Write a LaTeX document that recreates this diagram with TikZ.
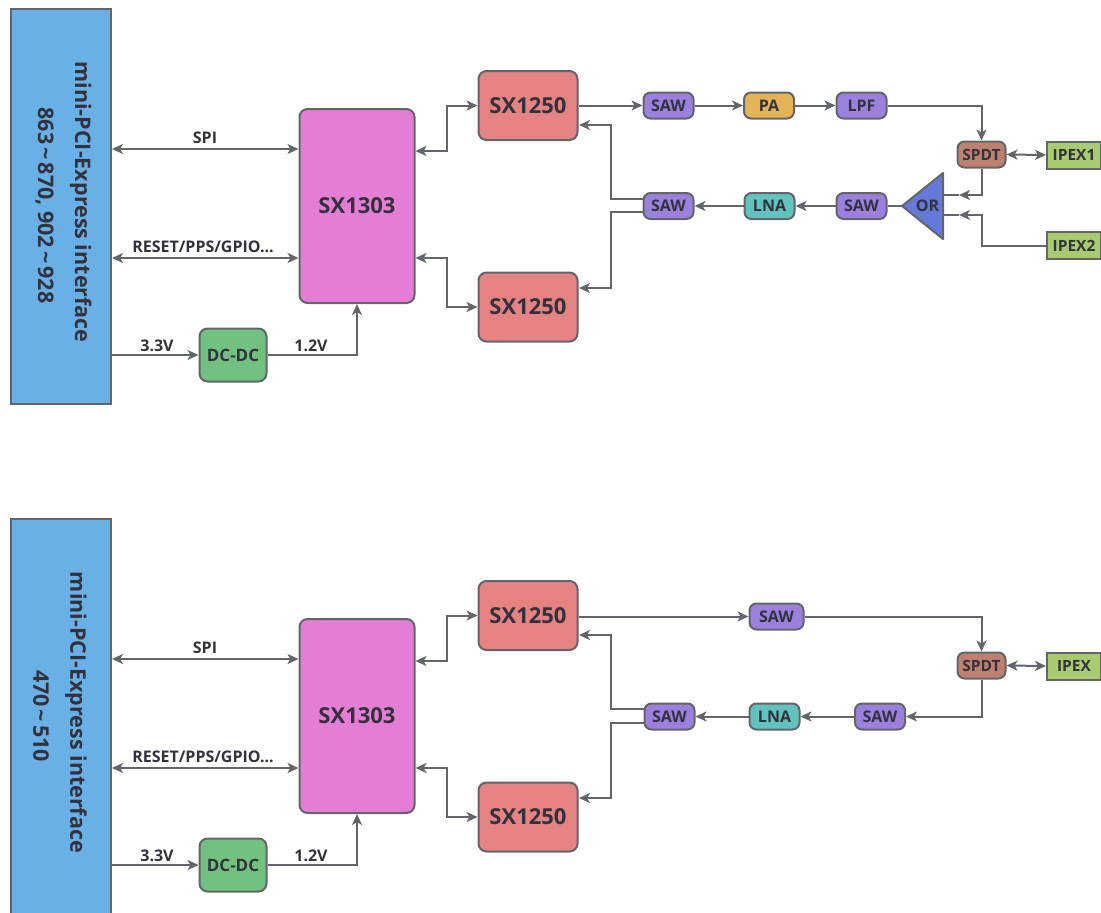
\documentclass[tikz,border=0pt]{standalone}
\usepackage{fontspec}
\setmainfont{Open Sans}
\usetikzlibrary{calc}
\usetikzlibrary{positioning,arrows.meta}
\definecolor{wirecol}{HTML}{62666A}
\definecolor{inkcol}{HTML}{33323C}
\definecolor{ifacecol}{HTML}{69B0E6}
\definecolor{soccol}{HTML}{E47ED4}
\definecolor{radiocol}{HTML}{E58282}
\definecolor{dcdccol}{HTML}{72C180}
\definecolor{sawcol}{HTML}{9B80DE}
\definecolor{pacol}{HTML}{E3B355}
\definecolor{lnacol}{HTML}{62C3BE}
\definecolor{spdtcol}{HTML}{C08070}
\definecolor{orcol}{HTML}{6479D8}
\definecolor{ipexcol}{HTML}{A9CB6F}
\newcommand{\wtilde}{\hspace{3pt}\textasciitilde\hspace{3pt}}
\tikzset{
    blk/.style={draw=wirecol, line width=2pt, inner sep=0pt, text=inkcol, font=\fontsize{17}{20}\selectfont\bfseries},
    iface/.style={blk, fill=ifacecol, minimum width=100pt, minimum height=395pt},
    soc/.style={blk, rounded corners=8pt, fill=soccol, minimum width=115pt, minimum height=194pt, font=\fontsize{22}{26}\selectfont\bfseries},
    radio/.style={blk, rounded corners=8pt, fill=radiocol, minimum width=99pt, minimum height=69pt, font=\fontsize{22}{26}\selectfont\bfseries},
    dcdc/.style={blk, rounded corners=8pt, fill=dcdccol, minimum width=67pt, minimum height=53pt},
    chip/.style={blk, rounded corners=7pt, minimum width=50pt, minimum height=26pt, font=\fontsize{16}{19}\selectfont\bfseries},
    spdtchip/.style={chip, fill=spdtcol, minimum width=48pt, font=\fontsize{15.5}{19}\selectfont\bfseries},
    ipex/.style={blk, fill=ipexcol, minimum width=54pt, minimum height=27pt, font=\fontsize{15.5}{19}\selectfont\bfseries},
    lbl/.style={inner sep=0pt, text=inkcol, font=\fontsize{16}{19}\selectfont\bfseries},
    ifacetxt/.style={lbl, rotate=-90, align=center, font=\fontsize{21.5}{37}\selectfont\bfseries},
    wire/.style={draw=wirecol, line width=2pt},
    arr/.style={wire, -{Stealth[length=11pt,width=10pt,inset=3pt]}},
    biarr/.style={wire, {Stealth[length=11pt,width=10pt,inset=3pt]}-{Stealth[length=11pt,width=10pt,inset=3pt]}},
}
\begin{document}
\begin{tikzpicture}[x=1pt,y=-1pt]
    \useasboundingbox (0,0) rectangle (1101,913);
    % left half, the same in both drawings
    \foreach \pre/\dy in {t-/0,b-/510} {
    \begin{scope}[yshift=-\dy pt, name prefix=\pre]
        \node[iface] (iface) at (61,206) {};
        \node[soc] (soc) at (357,206) {SX1303};
        \node[radio] (radioA) at (528,105.5) {SX1250};
        \node[radio] (radioB) at (528,307) {SX1250};
        \node[dcdc] (dcdc) at (233,355) {DC-DC};
        \coordinate (spiy) at (205,149);
        \coordinate (resety) at (205,258);
        \coordinate (socup) at (415,151);
        \node[lbl] (spilbl) at (205,138) {SPI};
        \node[lbl] (resetlbl) at (203,247) {RESET/PPS/GPIO...};
        \node[lbl] (vinlbl) at (157,346) {3.3V};
        \node[lbl] (voutlbl) at (311,346) {1.2V};
        \draw[biarr] (iface.east |- spiy) -- (soc.west |- spiy);
        \draw[biarr] (iface.east |- resety) -- (soc.west |- resety);
        \draw[arr] (iface.east |- dcdc) -- (dcdc.west);
        \draw[arr] (dcdc.east) -| (soc.south);
        \draw[biarr] (soc.east |- socup) -- ++(31,0) |- (radioA.west);
        \draw[biarr] (soc.east |- resety) -- ++(31,0) |- (radioB.west);
    \end{scope}
    }

    % upper RF path
    \node[chip, fill=sawcol] (sawtx) at (668.5,105.5) {SAW};
    \node[chip, fill=pacol] (pa) at (769,105.5) {PA};
    \node[chip, fill=sawcol] (lpf) at (861.5,105.5) {LPF};
    \node[spdtchip] (spdt) at (981.5,154.5) {SPDT};
    \node[ipex] (ipexA) at (1074,155) {IPEX1};
    \node[ipex] (ipexB) at (1074,245.5) {IPEX2};
    \node[chip, fill=sawcol] (sawor) at (861.5,206) {SAW};
    \node[chip, fill=lnacol] (lna) at (769.5,206) {LNA};
    \node[chip, fill=sawcol] (sawrx) at (668.5,206) {SAW};
    \draw[blk, fill=orcol, line join=round] (902,206) coordinate (orin) -- (943,173) -- (943,239) -- cycle;
    \node[lbl, font=\fontsize{16}{19}\selectfont\bfseries] (orgate) at (927.5,206) {OR};
    \coordinate (orA) at (943,195);
    \coordinate (orB) at (943,215);
    \coordinate (orAtip) at (959,195);
    \coordinate (orBtip) at (959,215);
    \coordinate (forkA) at (643,199);
    \coordinate (forkB) at (643,212);
    \coordinate (radioAin) at (579,125);
    \coordinate (radioBin) at (579,288);

    \draw[arr] (t-radioA.east |- sawtx) -- (sawtx.west);
    \draw[arr] (sawtx.east) -- (pa.west);
    \draw[arr] (pa.east) -- (lpf.west);
    \draw[arr] (lpf.east) -| (spdt.north);
    \draw[biarr] (spdt.east) -- (ipexA.west);
    \draw[arr] (spdt.south) |- (orAtip);
    \draw[wire] (orAtip) -- (orA);
    \draw[arr] (ipexB.west) -| (982,215) -- (orBtip);
    \draw[wire] (orBtip) -- (orB);
    \draw[wire] (sawor.east) -- (orin);
    \draw[arr] (sawor.west) -- (lna.east);
    \draw[arr] (lna.west) -- (sawrx.east);
    \draw[arr] (forkA) -- (610.5,199) |- (radioAin);
    \draw[arr] (forkB) -- (610.5,212) |- (radioBin);

    % lower RF path
    \node[chip, fill=sawcol, minimum width=54pt] (lowsawtx) at (776.5,616.5) {SAW};
    \node[spdtchip] (lowspdt) at (981.5,665.5) {SPDT};
    \node[ipex] (lowipex) at (1074,666) {IPEX};
    \node[chip, fill=sawcol] (lowsawor) at (880,716.5) {SAW};
    \node[chip, fill=lnacol] (lowlna) at (774.5,716.5) {LNA};
    \node[chip, fill=sawcol] (lowsawrx) at (669.5,716.5) {SAW};
    \coordinate (lowforkA) at (644,709);
    \coordinate (lowforkB) at (644,723);
    \coordinate (lowradioAin) at (579,635);
    \coordinate (lowradioBin) at (579,798);

    \draw[arr] (b-radioA.east |- lowsawtx) -- (lowsawtx.west);
    \draw[arr] (lowsawtx.east) -| (lowspdt.north);
    \draw[biarr] (lowspdt.east) -- (lowipex.west);
    \draw[arr] (lowspdt.south) |- (lowsawor.east);
    \draw[arr] (lowsawor.west) -- (lowlna.east);
    \draw[arr] (lowlna.west) -- (lowsawrx.east);
    \draw[arr] (lowforkA) -- (611,709) |- (lowradioAin);
    \draw[arr] (lowforkB) -- (611,723) |- (lowradioBin);

    % interface texts
    \node[ifacetxt] (ifacetop) at (63.5,202) {mini-PCI-Express interface\\\hspace*{7pt}863\wtilde870, 902\wtilde928};
    \node[ifacetxt] (ifacelow) at (60,712.5) {mini-PCI-Express interface\\\hspace*{7pt}470\wtilde510};
\end{tikzpicture}
\end{document}
